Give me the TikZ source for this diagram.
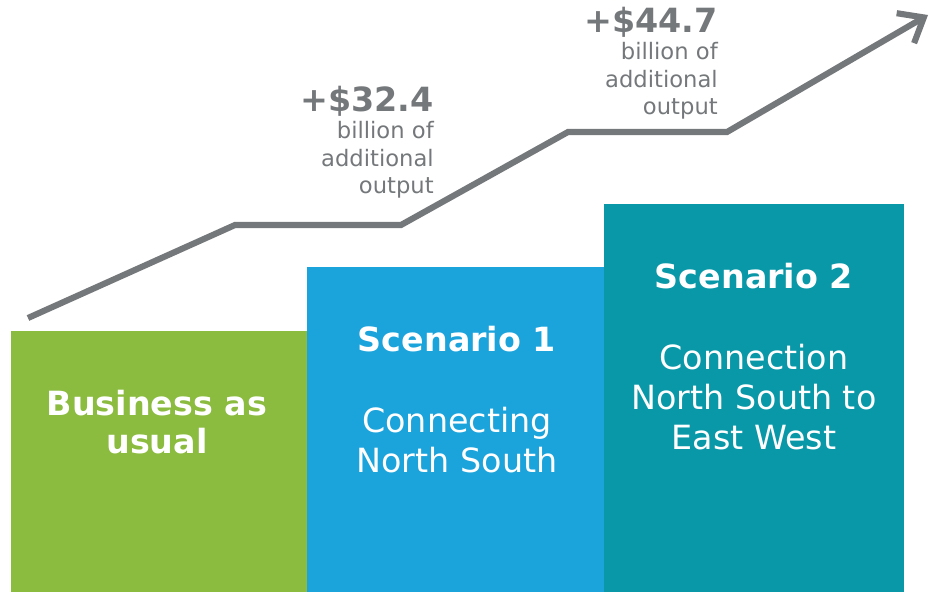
\documentclass[tikz,border=0pt]{standalone}
\usepackage{fontspec}
\setmainfont{DejaVu Sans}
\usetikzlibrary{positioning, arrows.meta}

\definecolor{bizgreen}{HTML}{8BBB3F}
\definecolor{scenblue}{HTML}{1BA3DC}
\definecolor{scenteal}{HTML}{0898A8}
\definecolor{trendgray}{HTML}{75787B}

\tikzset{
    boxtitle/.style={text=white, align=center, font=\fontsize{25pt}{29pt}\selectfont\bfseries},
    boxtext/.style={text=white, align=center, font=\fontsize{25pt}{30pt}\selectfont},
    amount/.style={text=trendgray, anchor=east, inner sep=0pt, font=\fontsize{25pt}{29pt}\selectfont\bfseries},
    amounttext/.style={text=trendgray, anchor=east, align=right, inner sep=0pt, font=\fontsize{17pt}{20.5pt}\selectfont},
}

\begin{document}
\begin{tikzpicture}[x=0.75pt, y=-0.75pt]
    \useasboundingbox (0,0) rectangle (937,592);

    % the three steps
    \fill[bizgreen] (11,331) rectangle (307,592);
    \fill[scenblue] (307,267) rectangle (604,592);
    \fill[scenteal] (604,204) rectangle (904,592);

    \node[boxtitle] (biz) at (157,422) {Business as\\usual};
    \node[boxtitle] (scen1) at (457,339) {Scenario 1};
    \node[boxtext] (scen1text) at (457,440) {Connecting\\North South};
    \node[boxtitle] (scen2) at (754,276) {Scenario 2};
    \node[boxtext] (scen2text) at (754,397) {Connection\\North South to\\East West};

    % trend line
    \coordinate (p0) at (28,318);
    \coordinate (p1) at (235,225);
    \coordinate (p2) at (401,225);
    \coordinate (p3) at (568,132);
    \coordinate (p4) at (727,132);
    \coordinate (p5) at (928,15);
    \draw[trendgray, line width=4.6pt, -{Straight Barb[length=16pt, width=26pt]}]
        (p0) -- (p1) -- (p2) -- (p3) -- (p4) -- (p5);

    % gains
    \node[amount] (gain1) at (434,101) {+\$32.4};
    \node[amounttext] (gain1text) at (434,160) {billion of\\additional\\output};
    \node[amount] (gain2) at (718,22) {+\$44.7};
    \node[amounttext] (gain2text) at (718,81) {billion of\\additional\\output};
\end{tikzpicture}
\end{document}
